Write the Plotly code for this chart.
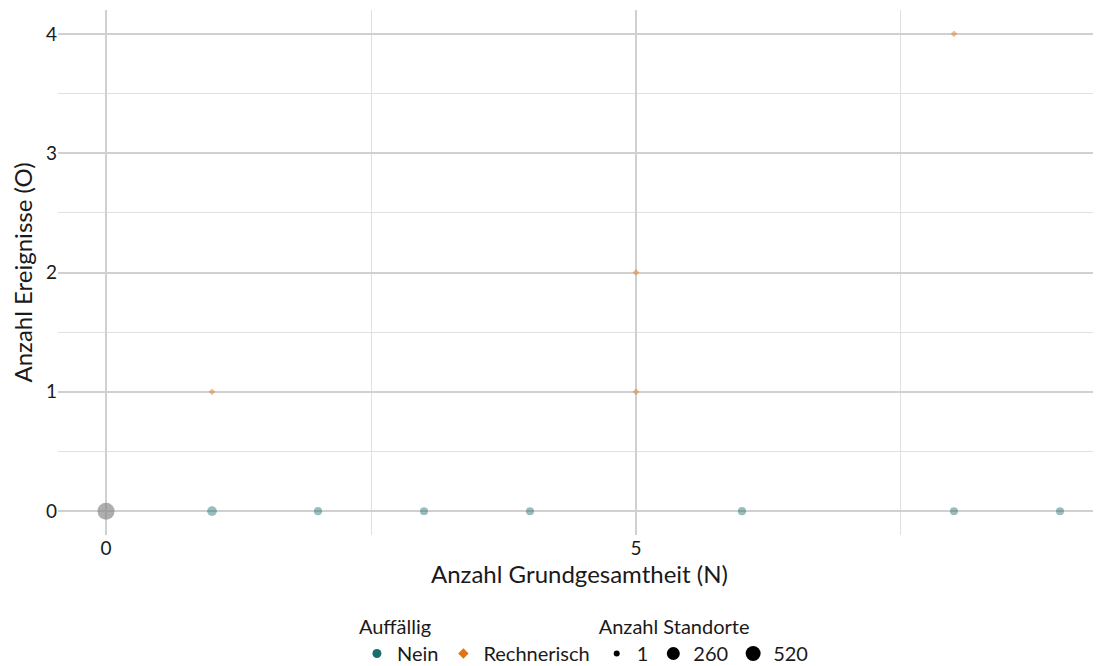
import plotly.graph_objects as go
import numpy as np

# Data
nein_n = [1, 2, 3, 4, 6, 8, 9]
nein_o = [0, 0, 0, 0, 0, 0, 0]
nein_count = [110, 50, 45, 45, 50, 45, 45]

rech_n = [1, 5, 5, 8]
rech_o = [1, 1, 2, 4]
rech_count = [1, 1, 1, 1]

zero_n = [0]
zero_o = [0]
zero_count = [520]

size_breaks = [1, 260, 520]
size_legend_px = [6, 13, 15]

x_ticks = [0, 5]
y_ticks = [0, 1, 2, 3, 4]

TEAL = "#186d6d"
ORANGE = "#e2730f"
GRAY = "#8c8c8c"
FONT = "Lato"
FS = 20

def diam(counts, dmin=6.5, dmax=17.0, vmax=520):
    c = np.asarray(counts, dtype=float)
    return np.sqrt(dmin**2 + (dmax**2 - dmin**2) * (c - 1) / (vmax - 1))

fig = go.Figure()

fig.add_trace(go.Scatter(
    x=zero_n, y=zero_o, mode="markers", showlegend=False,
    marker=dict(color=GRAY, size=diam(zero_count), opacity=0.7, line=dict(width=0))))

fig.add_trace(go.Scatter(
    x=nein_n, y=nein_o, mode="markers", name="Nein", showlegend=False,
    marker=dict(color=TEAL, size=diam(nein_count), opacity=0.45, line=dict(width=0))))

fig.add_trace(go.Scatter(
    x=rech_n, y=rech_o, mode="markers", name="Rechnerisch", showlegend=False,
    marker=dict(color=ORANGE, symbol="diamond", size=diam(rech_count) * 0.8,
                opacity=0.45, line=dict(width=0))))

# legend entries (full colour)
fig.add_trace(go.Scatter(
    x=[None], y=[None], mode="markers", name="Nein", legend="legend",
    marker=dict(color=TEAL, size=9, line=dict(width=0))))
fig.add_trace(go.Scatter(
    x=[None], y=[None], mode="markers", name="Rechnerisch", legend="legend",
    marker=dict(color=ORANGE, symbol="diamond", size=8, line=dict(width=0))))

for b, s in zip(size_breaks, size_legend_px):
    fig.add_trace(go.Scatter(
        x=[None], y=[None], mode="markers", name=str(b), legend="legend2",
        marker=dict(color="black", size=s, line=dict(width=0))))

fig.update_layout(
    width=1101, height=666,
    paper_bgcolor="white", plot_bgcolor="white",
    margin=dict(l=50, r=8, t=2, b=139, autoexpand=False),
    font=dict(family=FONT, size=FS, color="#1a1a1a"),
    xaxis=dict(
        range=[-0.453, 9.387], tickvals=x_ticks, ticktext=[str(v) for v in x_ticks],
        showgrid=True, gridcolor="#d0d0d0", gridwidth=1.5,
        minor=dict(tickvals=[2.5, 7.5], showgrid=True, gridcolor="#e0e0e0", gridwidth=1.2),
        zeroline=False, showline=False, ticks="", automargin=False,
        tickfont=dict(size=19),
        title=dict(text="Anzahl Grundgesamtheit (N)", standoff=8),
    ),
    yaxis=dict(
        range=[-0.2, 4.2], tickvals=y_ticks, ticktext=[str(v) for v in y_ticks],
        showgrid=True, gridcolor="#d0d0d0", gridwidth=1.5,
        minor=dict(tickvals=[0.5, 1.5, 2.5, 3.5], showgrid=True, gridcolor="#e0e0e0", gridwidth=1.2),
        zeroline=False, showline=False, ticks="", automargin=False,
        tickfont=dict(size=19),
        title=dict(text="Anzahl Ereignisse (O)", standoff=8),
    ),
    legend=dict(
        orientation="h", x=0.2866, xanchor="left", y=-0.139, yanchor="top",
        title=dict(text="Auffällig", side="top", font=dict(size=FS)),
        itemsizing="trace", font=dict(size=FS),
        bgcolor="rgba(0,0,0,0)",
    ),
    legend2=dict(
        orientation="h", x=0.5165, xanchor="left", y=-0.139, yanchor="top",
        title=dict(text="Anzahl Standorte", side="top", font=dict(size=FS)),
        itemsizing="trace", font=dict(size=FS),
        bgcolor="rgba(0,0,0,0)",
    ),
)

fig.write_html("out.html")
